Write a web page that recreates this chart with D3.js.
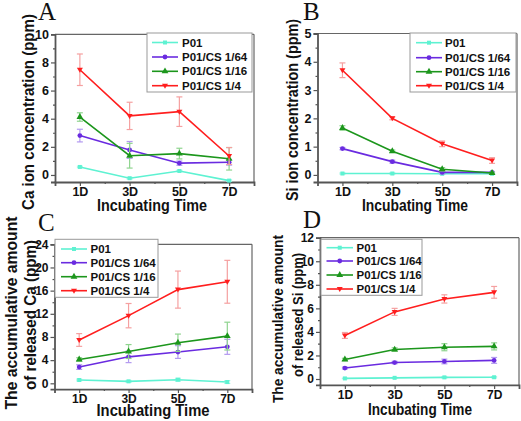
<!DOCTYPE html>
<html><head><meta charset="utf-8">
<script src="https://cdn.jsdelivr.net/npm/d3@7"></script>
<style>body{margin:0;background:#fff}svg{display:block}</style>
</head><body><svg id="c" width="521" height="421"></svg>
<script>
const days = [1, 3, 5, 7];
const dayLabels = ["1D", "3D", "5D", "7D"];
const seriesNames = ["P01", "P01/CS 1/64", "P01/CS 1/16", "P01/CS 1/4"];
const seriesColors = ["#5ef2d2", "#6a2be0", "#1c961c", "#ff1e1e"];
const errColors = ["#a8f5e5", "#b39af0", "#8fd48f", "#f5a0a0"];
const seriesSymbols = ["square", "circle", "triangle", "triangleDown"];

// A: Ca ion concentration (ppm)
const caIonP01 = [0.57, -0.23, 0.28, -0.4];
const caIon64 = [2.8, 1.78, 0.84, 0.9];
const caIon16 = [4.12, 1.37, 1.52, 1.15];
const caIon4 = [7.48, 4.2, 4.5, 1.35];
const caIonErrP01 = [0.05, 0.06, 0.05, 0.05];
const caIonErr64 = [0.45, 0.6, 0.15, 0.2];
const caIonErr16 = [0.3, 0.88, 0.38, 0.8];
const caIonErr4 = [1.12, 0.97, 1.05, 0.6];

// B: Si ion concentration (ppm)
const siIonP01 = [0.05, 0.05, 0.04, 0.04];
const siIon64 = [0.93, 0.47, 0.09, 0.09];
const siIon16 = [1.66, 0.84, 0.2, 0.07];
const siIon4 = [3.7, 2.0, 1.1, 0.51];
const siIonErrP01 = [0.02, 0.02, 0.02, 0.02];
const siIonErr64 = [0.04, 0.05, 0.05, 0.03];
const siIonErr16 = [0.08, 0.04, 0.06, 0.03];
const siIonErr4 = [0.26, 0.05, 0.1, 0.1];

// C: cumulative released Ca (ppm)
const caCumP01 = [0.57, 0.34, 0.62, 0.22];
const caCum64 = [2.8, 4.57, 5.4, 6.3];
const caCum16 = [4.12, 5.49, 7.0, 8.15];
const caCum4 = [7.48, 11.68, 16.18, 17.53];
const caCumErrP01 = [0.15, 0.15, 0.25, 0.25];
const caCumErr64 = [0.4, 1.0, 1.1, 1.3];
const caCumErr16 = [0.3, 1.2, 1.5, 2.4];
const caCumErr4 = [1.1, 2.1, 3.2, 3.7];

// D: cumulative released Si (ppm)
const siCumP01 = [0.05, 0.1, 0.14, 0.15];
const siCum64 = [0.93, 1.4, 1.49, 1.58];
const siCum16 = [1.66, 2.5, 2.7, 2.77];
const siCum4 = [3.7, 5.7, 6.8, 7.36];
const siCumErrP01 = [0.02, 0.03, 0.05, 0.05];
const siCumErr64 = [0.08, 0.1, 0.2, 0.25];
const siCumErr16 = [0.1, 0.15, 0.3, 0.3];
const siCumErr4 = [0.25, 0.3, 0.35, 0.5];

const svg = d3.select("#c");
const FONT = "Liberation Sans, Arial, sans-serif";

function symbolFor(si) {
  const t = seriesSymbols[si];
  if (t === "square") return d3.symbol(d3.symbolSquare, 16)();
  if (t === "circle") return d3.symbol(d3.symbolCircle, 18)();
  if (t === "triangle") return d3.symbol(d3.symbolTriangle, 20)();
  return "M-3,-2L3,-2L0,3Z";
}

function panel(cfg) {
  const g = svg.append("g");
  const x = d3.scaleLinear().domain([0, 8]).range([cfg.x0, cfg.x1]);
  const y = d3.scaleLinear().domain(cfg.yDomain).range([cfg.y1, cfg.y0]);

  g.append("line").attr("x1", cfg.x0).attr("x2", cfg.x1).attr("y1", cfg.y0).attr("y2", cfg.y0)
    .attr("stroke", "#666").attr("stroke-width", 1.2);
  g.append("line").attr("x1", cfg.x1).attr("x2", cfg.x1).attr("y1", cfg.y0).attr("y2", cfg.y1)
    .attr("stroke", "#666").attr("stroke-width", 1.2);

  g.append("g").attr("transform", `translate(${cfg.x0},0)`)
    .call(d3.axisLeft(y).tickValues(cfg.yTicks).tickSize(4).tickPadding(2).tickFormat(d3.format("d")));
  g.append("g").attr("transform", `translate(${cfg.x0},0)`)
    .call(d3.axisLeft(y).tickValues(cfg.yMinor).tickSize(2).tickFormat(""))
    .call(s => s.select(".domain").remove());
  g.append("g").attr("transform", `translate(0,${cfg.y1})`)
    .call(d3.axisBottom(x).tickValues(days).tickSize(4).tickPadding(1.5).tickFormat((d, i) => dayLabels[i]));
  g.append("g").attr("transform", `translate(0,${cfg.y1})`)
    .call(d3.axisBottom(x).tickValues([2, 4, 6]).tickSize(2).tickFormat(""))
    .call(s => s.select(".domain").remove());
  g.selectAll(".domain").attr("stroke", "#555").attr("stroke-width", 1.8);
  g.selectAll(".tick line").attr("stroke", "#555").attr("stroke-width", 1.2);
  g.selectAll(".tick text").attr("font-family", FONT).attr("font-weight", "bold")
    .attr("font-size", cfg.tickFont).attr("fill", "#111");

  cfg.series.forEach((vals, si) => {
    const errs = cfg.errors[si];
    const col = seriesColors[si];
    vals.forEach((v, i) => {
      const cx = x(days[i]);
      const eg = g.append("g").attr("stroke", errColors[si]).attr("stroke-width", 1.2);
      eg.append("line").attr("x1", cx).attr("x2", cx).attr("y1", y(v - errs[i])).attr("y2", y(v + errs[i]));
      eg.append("line").attr("x1", cx - 3).attr("x2", cx + 3).attr("y1", y(v - errs[i])).attr("y2", y(v - errs[i]));
      eg.append("line").attr("x1", cx - 3).attr("x2", cx + 3).attr("y1", y(v + errs[i])).attr("y2", y(v + errs[i]));
    });
    g.append("path").datum(vals)
      .attr("d", d3.line().x((d, i) => x(days[i])).y(d => y(d)))
      .attr("fill", "none").attr("stroke", col).attr("stroke-width", 1.6);
    g.selectAll(null).data(vals).enter().append("path")
      .attr("transform", (d, i) => `translate(${x(days[i])},${y(d)})`)
      .attr("d", symbolFor(si)).attr("fill", col);
  });

  const L = cfg.legend;
  g.append("rect").attr("x", L.x).attr("y", L.y).attr("width", L.w).attr("height", L.h)
    .attr("fill", "#fff").attr("stroke", "#999").attr("stroke-width", 1);
  seriesNames.forEach((nm, si) => {
    const ly = L.rows[si];
    g.append("line").attr("x1", L.lx0).attr("x2", L.lx1).attr("y1", ly).attr("y2", ly)
      .attr("stroke", seriesColors[si]).attr("stroke-width", 1.6);
    g.append("path").attr("transform", `translate(${(L.lx0 + L.lx1) / 2},${ly})`)
      .attr("d", symbolFor(si)).attr("fill", seriesColors[si]);
    g.append("text").attr("x", L.tx).attr("y", ly).attr("dy", "0.36em")
      .attr("font-family", FONT).attr("font-weight", "bold").attr("font-size", L.font)
      .attr("fill", "#111").text(nm);
  });

  g.append("text").attr("x", cfg.xTitle[0]).attr("y", cfg.xTitle[1]).attr("text-anchor", "middle")
    .attr("font-family", FONT).attr("font-weight", "bold").attr("font-size", 16).attr("fill", "#111")
    .attr("textLength", cfg.xTitle[2]).attr("lengthAdjust", "spacingAndGlyphs")
    .text("Incubating Time");
  cfg.yTitle.forEach(t => {
    g.append("text").attr("transform", `translate(${t.x},${t.y}) rotate(-90)`)
      .attr("text-anchor", "middle").attr("dy", "0.36em")
      .attr("font-family", FONT).attr("font-weight", "bold").attr("font-size", t.font).attr("fill", "#111")
      .attr("textLength", t.len).attr("lengthAdjust", "spacingAndGlyphs")
      .text(t.text);
  });
  g.append("text").attr("x", cfg.letter[0]).attr("y", cfg.letter[1])
    .attr("font-family", "Liberation Serif, Times New Roman, serif").attr("font-size", 25)
    .attr("fill", "#111").text(cfg.letter[2]);
}

panel({
  x0: 55, x1: 254, y0: 34.3, y1: 182, yDomain: [-0.5, 10],
  yTicks: [0, 2, 4, 6, 8, 10], yMinor: [1, 3, 5, 7, 9], tickFont: 12.5,
  series: [caIonP01, caIon64, caIon16, caIon4],
  errors: [caIonErrP01, caIonErr64, caIonErr16, caIonErr4],
  legend: { x: 147, y: 33, w: 105, h: 59, rows: [42.5, 57, 71.3, 85.7], lx0: 152, lx1: 178, tx: 182, font: 11.5 },
  xTitle: [152, 211, 110],
  yTitle: [{ x: 28, y: 112, text: "Ca ion concentration (ppm)", font: 16, len: 196 }],
  letter: [38, 20, "A"]
});
panel({
  x0: 317.5, x1: 517, y0: 33.5, y1: 182, yDomain: [-0.25, 5],
  yTicks: [0, 1, 2, 3, 4, 5], yMinor: [0.5, 1.5, 2.5, 3.5, 4.5], tickFont: 12.5,
  series: [siIonP01, siIon64, siIon16, siIon4],
  errors: [siIonErrP01, siIonErr64, siIonErr16, siIonErr4],
  legend: { x: 410, y: 33, w: 106, h: 59, rows: [42.7, 57.7, 71.7, 85.7], lx0: 416, lx1: 442, tx: 445, font: 11.5 },
  xTitle: [415, 211, 106],
  yTitle: [{ x: 292.5, y: 110, text: "Si ion concentration (ppm)", font: 16, len: 182 }],
  letter: [303, 20, "B"]
});
panel({
  x0: 54.5, x1: 252, y0: 244.3, y1: 389.1, yDomain: [-1, 24],
  yTicks: [0, 4, 8, 12, 16, 20, 24], yMinor: [2, 6, 10, 14, 18, 22], tickFont: 12,
  series: [caCumP01, caCum64, caCum16, caCum4],
  errors: [caCumErrP01, caCumErr64, caCumErr16, caCumErr4],
  legend: { x: 55, y: 239.3, w: 103, h: 58, rows: [249, 262.7, 276.7, 290.7], lx0: 61, lx1: 87, tx: 90.5, font: 11.5 },
  xTitle: [153, 415.5, 113],
  yTitle: [
    { x: 11, y: 313, text: "The accumulative amount", font: 16.5, len: 193 },
    { x: 30, y: 315, text: "of released Ca (ppm)", font: 16.5, len: 150 }
  ],
  letter: [38, 231, "C"]
});
panel({
  x0: 320, x1: 519, y0: 237.7, y1: 384.9, yDomain: [-0.5, 12],
  yTicks: [0, 2, 4, 6, 8, 10, 12], yMinor: [1, 3, 5, 7, 9, 11], tickFont: 12,
  series: [siCumP01, siCum64, siCum16, siCum4],
  errors: [siCumErrP01, siCumErr64, siCumErr16, siCumErr4],
  legend: { x: 321, y: 239.3, w: 101, h: 56, rows: [247.7, 261, 275, 289], lx0: 326.5, lx1: 353, tx: 356.5, font: 11.5 },
  xTitle: [420, 414.5, 104],
  yTitle: [
    { x: 278, y: 319, text: "The accumulative amount", font: 14.5, len: 168 },
    { x: 298, y: 315, text: "of released Si (ppm)", font: 14.5, len: 124 }
  ],
  letter: [303, 228, "D"]
});
</script></body></html>
